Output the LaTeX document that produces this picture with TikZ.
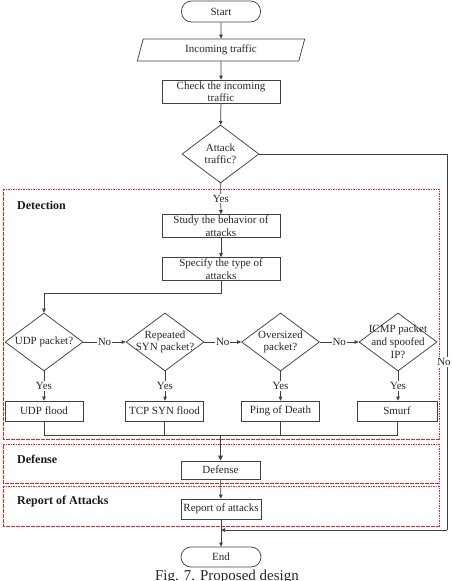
\documentclass[tikz,border=0pt]{standalone}
\usepackage{fontspec}
\setmainfont{Liberation Serif}
\usetikzlibrary{shapes.geometric,arrows.meta}
\definecolor{zred}{RGB}{240,30,30}
\begin{document}
\begin{tikzpicture}[x=1pt,y=-1pt,
  ln/.style={draw=black!75, line width=0.75pt},
  arr/.style={ln, -{Triangle[length=4pt,width=3.6pt]}},
  txt/.style={font=\fontsize{11}{12.5}\selectfont, text=black!85, align=center, inner sep=0pt},
  box/.style={txt, draw=black!75, line width=0.75pt, rectangle, minimum width=118pt, minimum height=23pt},
  sbox/.style={box, minimum width=78pt, minimum height=20pt},
  term/.style={txt, draw=black!75, line width=0.75pt, rounded corners=10pt, minimum width=79pt, minimum height=21pt},
  dia/.style={draw=black!75, line width=0.75pt, diamond, minimum width=78pt, minimum height=58pt, inner sep=0pt},
  lab/.style={txt, fill=white, inner sep=1pt},
  zone/.style={draw=zred, line width=0.9pt, dash pattern=on 1.6pt off 0.9pt},
  zlab/.style={font=\fontsize{12}{14}\selectfont\bfseries, text=black!90, anchor=west, inner sep=0pt}
]
\useasboundingbox (0,0) rectangle (451,581);
% zones
\draw[zone] (3,189) -- (439,189) -- (439,439) -- (3,439) -- cycle;
\draw[zone] (3,444) -- (439,444) -- (439,483) -- (3,483) -- cycle;
\draw[zone] (3,486) -- (439,486) -- (439,526) -- (3,526) -- cycle;
\node[zlab] (zdet) at (17,205) {Detection};
\node[zlab] (zdef) at (17,459) {Defense};
\node[zlab] (zrep) at (17,502) {Report of Attacks};
% main column
\node[term] (start) at (221,11.5) {Start};
\node[txt, draw=black!75, line width=0.75pt, trapezium, trapezium left angle=75, trapezium right angle=105, minimum width=128pt, minimum height=22pt, inner sep=0pt] (inc) at (221,50) {Incoming traffic};
\node[box] (check) at (221,91.5) {Check the incoming\\traffic};
\node[dia, minimum width=77pt] (att) at (220.5,154) {};
\node[txt] (tatt) at (att) {Attack\\traffic?};
\node[box] (study) at (221,226) {Study the behavior of\\attacks};
\node[box] (spec) at (221,269) {Specify the type of\\attacks};
% decisions
\node[dia] (d1) at (44,342) {};
\node[dia] (d2) at (165,342) {};
\node[dia] (d3) at (280.5,342) {};
\node[dia] (d4) at (398,342) {};
\node[txt] (t1) at (d1) {UDP packet?};
\node[txt] (t2) at (d2) {Repeated\\SYN packet?};
\node[txt] (t3) at (d3) {Oversized\\packet?};
\node[txt, font=\fontsize{11}{13}\selectfont] (t4) at (d4) {ICMP packet\\and spoofed\\IP?};
% attack boxes
\node[sbox] (b1) at (44,411) {UDP flood};
\node[sbox] (b2) at (164.5,411) {TCP SYN flood};
\node[sbox] (b3) at (280.5,411) {Ping of Death};
\node[sbox, minimum width=80pt] (b4) at (397,411) {Smurf};
% lower column
\node[sbox, minimum width=79pt, minimum height=18pt] (def) at (220.5,470) {Defense};
\node[sbox, minimum width=80pt, minimum height=20pt] (rep) at (221,509) {Report of attacks};
\node[term, minimum width=80pt, minimum height=20pt] (end) at (221,557) {End};
\node[anchor=base, font=\fontsize{15}{18}\selectfont, text=black!85, inner sep=0pt] (cap) at (227,580) {Fig. 7. Proposed design};
% coordinates
\coordinate (c1) at (221,293);
\coordinate (c2) at (44,293);
\coordinate (jl) at (44,435);
\coordinate (jr) at (397,435);
\coordinate (jm) at (220.5,435);
\coordinate (r1) at (447,154);
\coordinate (r2) at (447,530);
\coordinate (r3) at (221,530);
% connectors
\draw[arr] (start) -- (inc);
\draw[arr] (inc) -- (check);
\draw[arr] (check) -- (att);
\draw[arr] (att) -- node[lab]{Yes} (study);
\draw[arr] (study) -- (spec);
\draw[ln] (spec.south) -- (c1) -- (c2);
\draw[arr] (c2) -- (d1.north);
\draw[arr] (d1) -- node[lab]{No} (d2);
\draw[arr] (d2) -- node[lab]{No} (d3);
\draw[arr] (d3) -- node[lab]{No} (d4);
\draw[arr] (d1) -- node[lab]{Yes} (b1);
\draw[arr] (d2.south) -- node[lab]{Yes} (b2.north -| d2.south);
\draw[arr] (d3) -- node[lab]{Yes} (b3);
\draw[arr] (d4.south) -- node[lab]{Yes} (b4.north -| d4.south);
\draw[ln] (b1.south) -- (jl) -- (jr) -- (b4.south);
\draw[ln] (b2.south) -- (b2.south |- jl);
\draw[ln] (b3.south) -- (b3.south |- jl);
\draw[ln, line width=1.3pt, -{Triangle[length=5pt,width=4.5pt]}] (jm) -- (def.north);
\draw[arr] (def) -- (rep);
\draw[arr] (rep) -- (end);
\draw[ln] (att.east) -- (r1) -- (r2);
\draw[arr] (r2) -- (r3);
\node[lab] (nolab) at (444,362) {No};
\end{tikzpicture}
\end{document}
